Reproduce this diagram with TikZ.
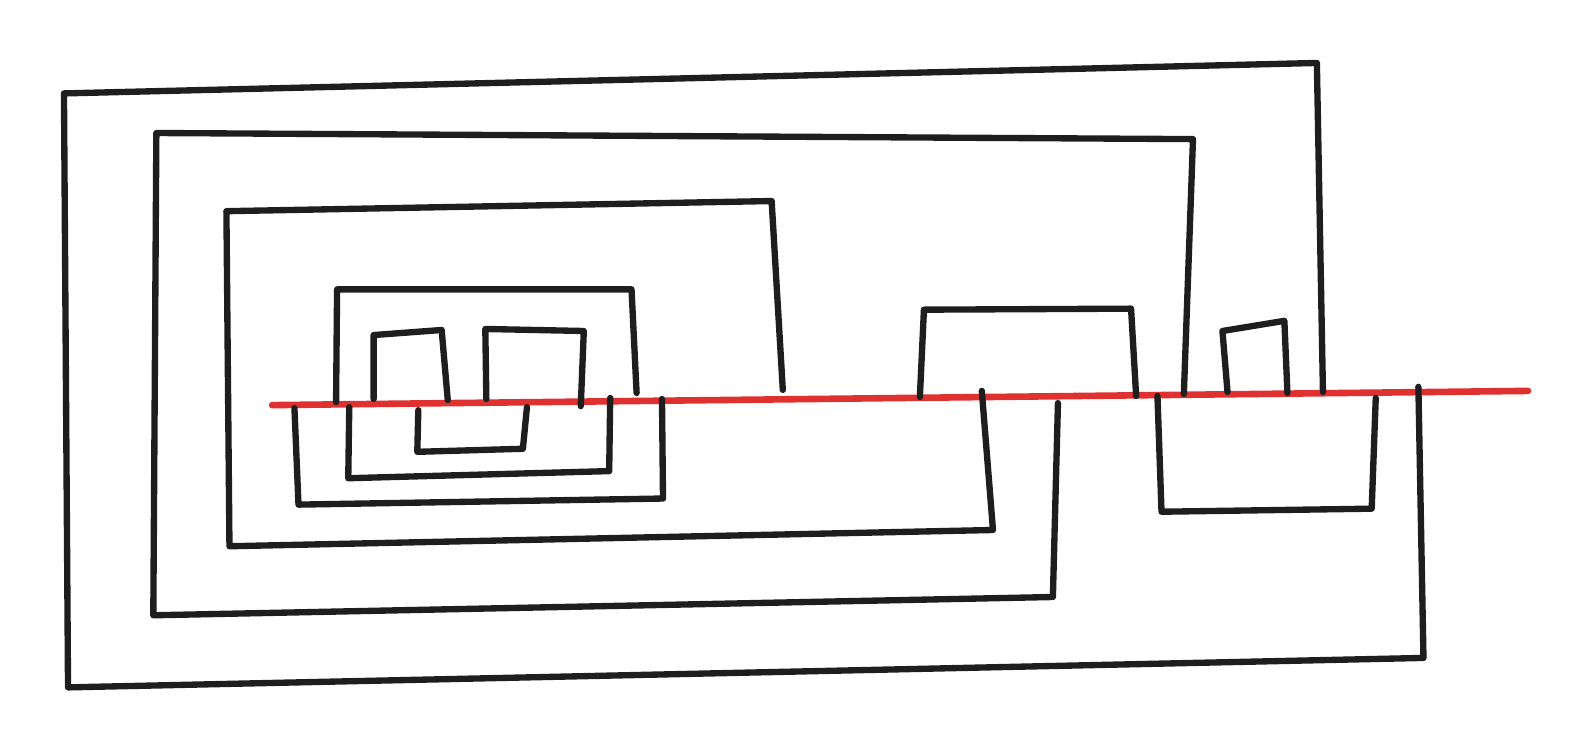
\documentclass[tikz,border=0pt]{standalone}
\usepackage{tikz}

\definecolor{ink}{HTML}{1E1E1E}
\definecolor{axisred}{HTML}{E03131}

\begin{document}
\begin{tikzpicture}[x=0.2mm, y=-0.2mm,
  strand/.style={draw=ink, line width=1.25mm, line cap=round, line join=round},
  axisline/.style={draw=axisred, line width=1.3mm, line cap=round}]
\useasboundingbox (0,0) rectangle (1568,741);

\draw[axisline] (268,399) -- (1505,385);

\draw[strand] (1397,381) -- (1402,648) -- (67,677) -- (63,92) -- (1297,62) -- (1303,386);
\draw[strand] (1042,397) -- (1037,588) -- (151,606) -- (154,131) -- (1175,137) -- (1166,388);
\draw[strand] (967,385) -- (978,522) -- (226,538) -- (223,208) -- (760,198) -- (771,384);
\draw[strand] (331,396) -- (332,285) -- (622,285) -- (627,387);
\draw[strand] (290,402) -- (294,497) -- (653,491) -- (652,393);
\draw[strand] (344,401) -- (343,471) -- (600,464) -- (601,392);
\draw[strand] (368,393) -- (368,330) -- (435,325) -- (441,394);
\draw[strand] (479,393) -- (478,324) -- (575,326) -- (572,400);
\draw[strand] (412,404) -- (411,445) -- (515,442) -- (519,401);
\draw[strand] (906,391) -- (910,305) -- (1114,304) -- (1119,390);
\draw[strand] (1140,390) -- (1144,504) -- (1351,501) -- (1355,392);
\draw[strand] (1209,386) -- (1204,326) -- (1265,316) -- (1268,387);
\end{tikzpicture}
\end{document}
